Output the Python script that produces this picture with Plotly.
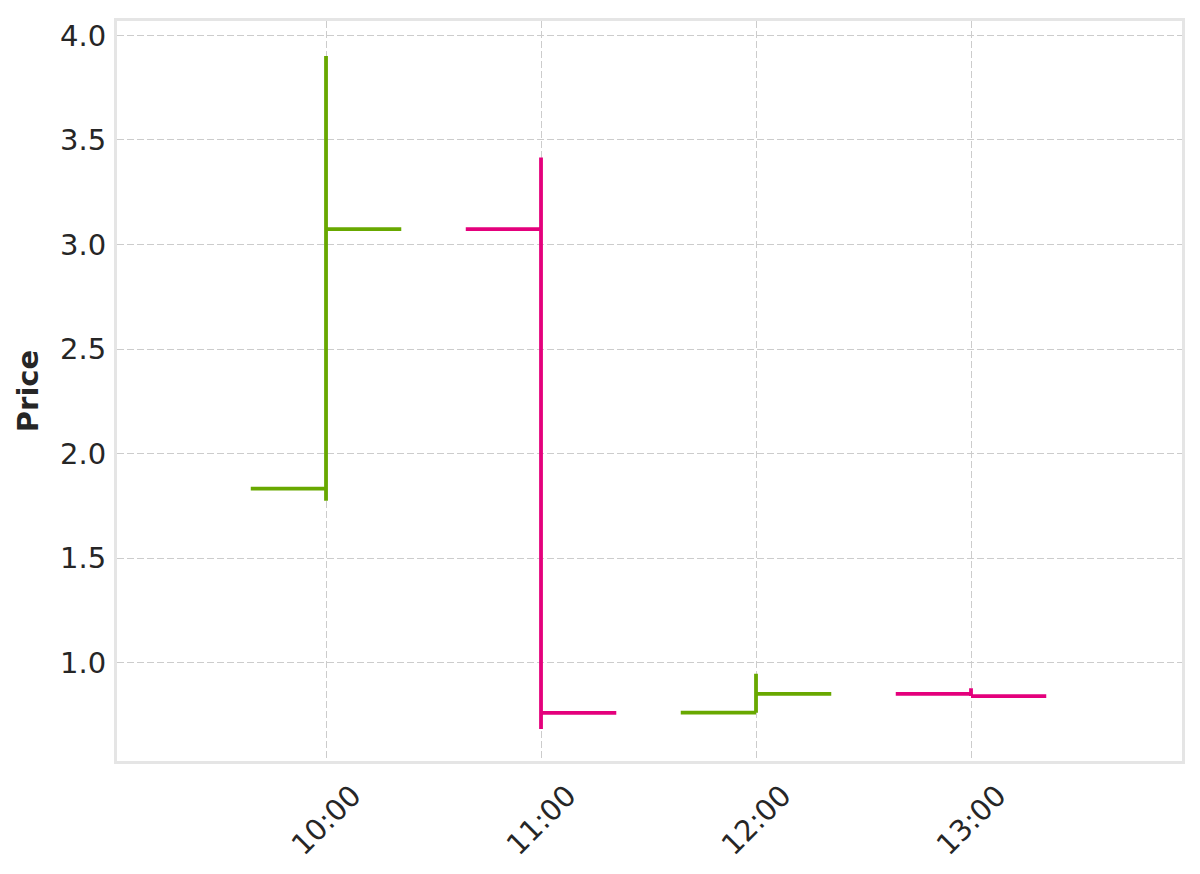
import plotly.graph_objects as go

times = ["2024-01-01 10:00", "2024-01-01 11:00", "2024-01-01 12:00", "2024-01-01 13:00"]
tick_labels = ["10:00", "11:00", "12:00", "13:00"]
open_ = [1.833, 3.074, 0.762, 0.852]
high = [3.901, 3.416, 0.948, 0.879]
low = [1.775, 0.684, 0.762, 0.841]
close = [3.074, 0.761, 0.852, 0.841]
y_ticks = [1.0, 1.5, 2.0, 2.5, 3.0, 3.5, 4.0]

fig = go.Figure(go.Ohlc(
    x=times, open=open_, high=high, low=low, close=close,
    increasing=dict(line=dict(color="#68a800", width=3.8)),
    decreasing=dict(line=dict(color="#e4007c", width=3.8)),
    tickwidth=0.35, showlegend=False, hoverinfo="skip",
))

font = "DejaVu Sans, Liberation Sans, sans-serif"
fsize = 29

for t, lab in zip(times, tick_labels):
    fig.add_annotation(
        x=t, y=0, xref="x", yref="paper", text=lab, showarrow=False,
        textangle=-45, xanchor="center", yanchor="top", yshift=-14,
        font=dict(family=font, size=fsize, color="#262626"),
    )

fig.update_layout(
    width=1200, height=874,
    margin=dict(l=109, r=26, t=10, b=121),
    paper_bgcolor="white", plot_bgcolor="white",
    font=dict(family=font, size=fsize, color="#262626"),
    xaxis=dict(
        type="date",
        range=["2024-01-01 09:01:40", "2024-01-01 13:58:53"],
        tickvals=times, showticklabels=False,
        showgrid=True, gridcolor="#cccccc", griddash="7px,3px", gridwidth=1.4,
        showline=True, linecolor="#e5e5e5", linewidth=3, mirror=True,
        rangeslider=dict(visible=False), zeroline=False,
        ticks="", ticklen=0,
    ),
    yaxis=dict(
        range=[0.5308, 4.0686],
        tickvals=y_ticks,
        ticktext=[f"{v:.1f}" for v in y_ticks],
        showgrid=True, gridcolor="#cccccc", griddash="7px,3px", gridwidth=1.4,
        showline=True, linecolor="#e5e5e5", linewidth=3, mirror=True,
        zeroline=False, ticks="outside", ticklen=2, tickcolor="rgba(0,0,0,0)",
        title=dict(text="<b>Price</b>", font=dict(size=fsize, family=font), standoff=13),
    ),
)

fig.write_html("out.html")
